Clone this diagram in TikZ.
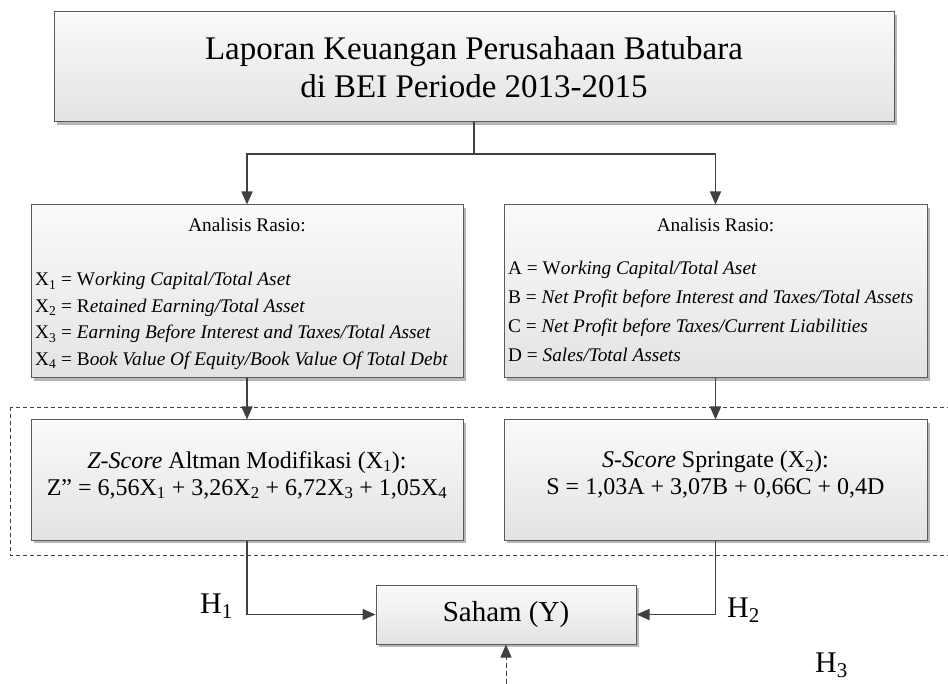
\documentclass[tikz,border=0pt]{standalone}
\usepackage{fontspec}
\setmainfont{Liberation Serif}
\usepackage{tikz}
\usetikzlibrary{arrows.meta, positioning, shadows}

\definecolor{garis}{HTML}{404040}
\definecolor{tepi}{HTML}{5A5A5A}
\definecolor{isiatas}{HTML}{FAFAFA}
\definecolor{isibawah}{HTML}{E3E3E3}

\begin{document}
\begin{tikzpicture}[
    x=1pt, y=-1pt,
    box/.style={rectangle, draw=tepi, line width=1pt, top color=isiatas, bottom color=isibawah,
        drop shadow={shadow xshift=3pt, shadow yshift=-3pt, fill=black!40, opacity=0.7},
        inner sep=0pt, align=center},
    baris/.style={anchor=base west, inner sep=0pt, font=\fontsize{19.3}{24}\selectfont},
    skor/.style={align=center, inner sep=0pt, font=\fontsize{24}{27}\selectfont},
    arrow/.style={-{Triangle[length=13pt, width=11pt]}, draw=garis, line width=1.6pt},
    dasharrow/.style={-{Triangle[length=13pt, width=11pt]}, draw=garis, line width=1pt, dash pattern=on 5pt off 3pt},
    hlabel/.style={anchor=base west, inner sep=0pt, font=\fontsize{30}{34}\selectfont}
    ]

    \useasboundingbox (0,0) rectangle (948,684);

    % Define the boxes
    \node[box, minimum width=840pt, minimum height=110pt, font=\fontsize{33}{38}\selectfont] (laporan) at (474,67)
        {Laporan Keuangan Perusahaan Batubara\\di BEI Periode 2013-2015};
    \node[box, minimum width=432pt, minimum height=173pt] (rasioZ) at (247,291.5) {};
    \node[box, minimum width=423pt, minimum height=173pt] (rasioS) at (715.5,291.5) {};
    \node[box, minimum width=432pt, minimum height=120pt] (skorZ) at (247,480) {};
    \node[box, minimum width=423pt, minimum height=120pt] (skorS) at (715.5,480) {};
    \node[box, minimum width=260pt, minimum height=59pt, font=\fontsize{29}{32}\selectfont] (saham) at (506,614.5) {Saham (Y)};

    % Texts of the ratio boxes
    \node[anchor=base, inner sep=0pt, font=\fontsize{19.3}{24}\selectfont] (judulZ) at (247,232) {Analisis Rasio:};
    \node[baris] (x1) at (35,286) {X\textsubscript{1} = W\textit{orking Capital/Total Aset}};
    \node[baris] (x2) at (35,312.5) {X\textsubscript{2} = R\textit{etained Earning/Total Asset}};
    \node[baris] (x3) at (35,339) {X\textsubscript{3} = \textit{Earning Before Interest and Taxes/Total Asset}};
    \node[baris] (x4) at (35,365.5) {X\textsubscript{4} = B\textit{ook Value Of Equity/Book Value Of Total Debt}};

    \node[anchor=base, inner sep=0pt, font=\fontsize{19.3}{24}\selectfont] (judulS) at (715.5,232) {Analisis Rasio:};
    \node[baris] (a) at (508,275) {A = W\textit{orking Capital/Total Aset}};
    \node[baris] (b) at (508,304) {B = \textit{Net Profit before Interest and Taxes/Total Assets}};
    \node[baris] (c) at (508,333) {C = \textit{Net Profit before Taxes/Current Liabilities}};
    \node[baris] (d) at (508,362) {D = \textit{Sales/Total Assets}};

    % Texts of the score boxes
    \node[skor] (rumusZ) at (247,475)
        {\textit{Z-Score} Altman Modifikasi (X\textsubscript{1}):\\
         Z” = 6,56X\textsubscript{1} + 3,26X\textsubscript{2} + 6,72X\textsubscript{3} + 1,05X\textsubscript{4}};
    \node[skor] (rumusS) at (715.5,475)
        {\textit{S-Score} Springate (X\textsubscript{2}):\\
         S = 1,03A + 3,07B + 0,66C + 0,4D};

    % Hypothesis labels
    \node[hlabel] (h1) at (200,613) {H\textsubscript{1}};
    \node[hlabel] (h2) at (727,617) {H\textsubscript{2}};
    \node[hlabel] (h3) at (815,672) {H\textsubscript{3}};

    % Dashed group round the scores
    \draw[draw=garis, line width=0.8pt, dash pattern=on 4pt off 3pt] (10,407) rectangle (980,555);

    % Connect the boxes
    \coordinate (cabang) at (474,154);
    \coordinate (bawah) at (506,700);
    \draw[draw=garis, line width=1.6pt] (laporan.south) -- (cabang);
    \draw[arrow] (cabang) -| (rasioZ.north);
    \draw[arrow] (cabang) -| (rasioS.north);
    \draw[arrow] (rasioZ) -- (skorZ);
    \draw[arrow] (rasioS) -- (skorS);
    \draw[arrow] (skorZ.south) |- (saham.west);
    \draw[arrow] (skorS.south) |- (saham.east);
    \draw[dasharrow] (bawah) -- (saham.south);

\end{tikzpicture}
\end{document}
